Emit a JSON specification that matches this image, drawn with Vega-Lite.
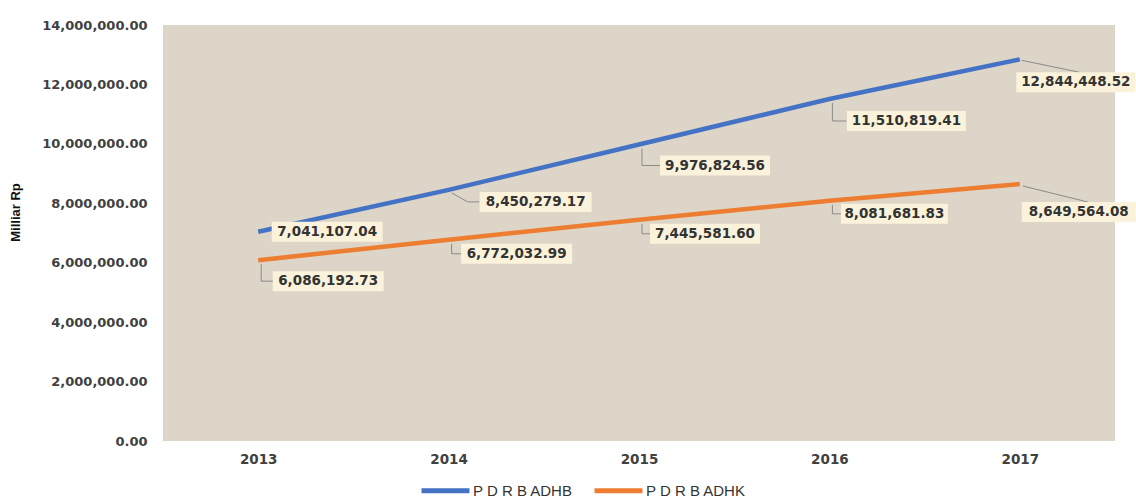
{
  "$schema": "https://vega.github.io/schema/vega-lite/v6.json",
  "width": 952,
  "height": 416,
  "autosize": {"type": "none"},
  "padding": {"left": 163, "top": 25, "right": 21, "bottom": 61},
  "background": "#ffffff",
  "config": {
    "view": {"fill": "#DDD5C8", "stroke": null},
    "axis": {"labelFont": "DejaVu Sans", "labelFontWeight": "bold", "labelColor": "#404040", "grid": false, "ticks": false, "domain": false}
  },
  "data": {
    "values": [
      {"year": "2013", "series": "P D R B ADHB", "value": 7041107.04},
      {"year": "2014", "series": "P D R B ADHB", "value": 8450279.17},
      {"year": "2015", "series": "P D R B ADHB", "value": 9976824.56},
      {"year": "2016", "series": "P D R B ADHB", "value": 11510819.41},
      {"year": "2017", "series": "P D R B ADHB", "value": 12844448.52},
      {"year": "2013", "series": "P D R B ADHK", "value": 6086192.73},
      {"year": "2014", "series": "P D R B ADHK", "value": 6772032.99},
      {"year": "2015", "series": "P D R B ADHK", "value": 7445581.60},
      {"year": "2016", "series": "P D R B ADHK", "value": 8081681.83},
      {"year": "2017", "series": "P D R B ADHK", "value": 8649564.08}
    ]
  },
  "encoding": {
    "x": {"field": "year", "type": "ordinal", "scale": {"type": "point", "padding": 0.5},
      "axis": {"title": null, "labelAngle": 0, "labelFontSize": 13.5, "labelPadding": 11}},
    "y": {"field": "value", "type": "quantitative", "scale": {"domain": [0, 14000000]},
      "axis": {"title": "Milliar Rp", "titleFont": "Liberation Sans", "titleFontWeight": "bold", "titleFontSize": 13, "titleColor": "#111111", "titleX": -148, "titleY": 187, "titleAngle": -90, "titleBaseline": "middle",
        "values": [0, 2000000, 4000000, 6000000, 8000000, 10000000, 12000000, 14000000], "format": ",.2f", "labelFontSize": 13, "labelPadding": 16}}
  },
  "layer": [
    {
      "mark": {"type": "line", "strokeWidth": 4.5, "strokeCap": "butt"},
      "encoding": {
        "color": {"field": "series", "type": "nominal",
          "scale": {"domain": ["P D R B ADHB", "P D R B ADHK"], "range": ["#4472C4", "#ED7D31"]},
          "legend": {"title": null, "orient": "none", "direction": "horizontal", "legendX": 256, "legendY": 439, "padding": 0,
            "symbolType": "stroke", "symbolStrokeWidth": 5, "symbolSize": 2300, "labelFont": "Liberation Sans", "labelFontSize": 15, "labelColor": "#333333", "labelOffset": 1, "columnPadding": 10}}
      }
    },
    {"transform": [{"filter": "datum.series == 'P D R B ADHB' && datum.year == '2013'"}],
     "layer": [
      {"mark": {"type": "rect", "fill": "#FAF2DA", "width": 111, "height": 20, "xOffset": 69, "yOffset": 0}},
      {"mark": {"type": "text", "font": "DejaVu Sans", "fontWeight": "bold", "fontSize": 13.5, "color": "#333333", "dx": 69, "dy": 0, "align": "center", "baseline": "middle"}, "encoding": {"text": {"field": "value", "type": "quantitative", "format": ",.2f"}}}
     ]},
    {"transform": [{"filter": "datum.series == 'P D R B ADHK' && datum.year == '2013'"}],
     "layer": [
      {"mark": {"type": "rule", "color": "#8a8a8a", "strokeWidth": 1, "xOffset": 3, "yOffset": 4, "y2Offset": 21}, "encoding": {"y2": {"field": "value"}}},
      {"mark": {"type": "rule", "color": "#8a8a8a", "strokeWidth": 1, "xOffset": 3, "x2Offset": 15, "yOffset": 21}, "encoding": {"x2": {"field": "year"}}},
      {"mark": {"type": "rect", "fill": "#FAF2DA", "width": 111, "height": 20, "xOffset": 70, "yOffset": 21}},
      {"mark": {"type": "text", "font": "DejaVu Sans", "fontWeight": "bold", "fontSize": 13.5, "color": "#333333", "dx": 70, "dy": 21, "align": "center", "baseline": "middle"}, "encoding": {"text": {"field": "value", "type": "quantitative", "format": ",.2f"}}}
     ]},
    {"transform": [{"filter": "datum.series == 'P D R B ADHB' && datum.year == '2014'"}],
     "layer": [
      {"mark": {"type": "rule", "color": "#8a8a8a", "strokeWidth": 1, "xOffset": 3, "yOffset": 3, "x2Offset": 19, "y2Offset": 12}, "encoding": {"x2": {"field": "year"}, "y2": {"field": "value"}}},
      {"mark": {"type": "rule", "color": "#8a8a8a", "strokeWidth": 1, "xOffset": 19, "x2Offset": 31, "yOffset": 12}, "encoding": {"x2": {"field": "year"}}},
      {"mark": {"type": "rect", "fill": "#FAF2DA", "width": 112, "height": 20, "xOffset": 87, "yOffset": 12}},
      {"mark": {"type": "text", "font": "DejaVu Sans", "fontWeight": "bold", "fontSize": 13.5, "color": "#333333", "dx": 87, "dy": 12, "align": "center", "baseline": "middle"}, "encoding": {"text": {"field": "value", "type": "quantitative", "format": ",.2f"}}}
     ]},
    {"transform": [{"filter": "datum.series == 'P D R B ADHK' && datum.year == '2014'"}],
     "layer": [
      {"mark": {"type": "rule", "color": "#8a8a8a", "strokeWidth": 1, "xOffset": 3, "yOffset": 4, "y2Offset": 14}, "encoding": {"y2": {"field": "value"}}},
      {"mark": {"type": "rule", "color": "#8a8a8a", "strokeWidth": 1, "xOffset": 3, "x2Offset": 13, "yOffset": 14}, "encoding": {"x2": {"field": "year"}}},
      {"mark": {"type": "rect", "fill": "#FAF2DA", "width": 111, "height": 20, "xOffset": 68, "yOffset": 14}},
      {"mark": {"type": "text", "font": "DejaVu Sans", "fontWeight": "bold", "fontSize": 13.5, "color": "#333333", "dx": 68, "dy": 14, "align": "center", "baseline": "middle"}, "encoding": {"text": {"field": "value", "type": "quantitative", "format": ",.2f"}}}
     ]},
    {"transform": [{"filter": "datum.series == 'P D R B ADHB' && datum.year == '2015'"}],
     "layer": [
      {"mark": {"type": "rule", "color": "#8a8a8a", "strokeWidth": 1, "xOffset": 3, "yOffset": 4, "y2Offset": 21}, "encoding": {"y2": {"field": "value"}}},
      {"mark": {"type": "rule", "color": "#8a8a8a", "strokeWidth": 1, "xOffset": 3, "x2Offset": 21, "yOffset": 21}, "encoding": {"x2": {"field": "year"}}},
      {"mark": {"type": "rect", "fill": "#FAF2DA", "width": 110, "height": 20, "xOffset": 76, "yOffset": 21}},
      {"mark": {"type": "text", "font": "DejaVu Sans", "fontWeight": "bold", "fontSize": 13.5, "color": "#333333", "dx": 76, "dy": 21, "align": "center", "baseline": "middle"}, "encoding": {"text": {"field": "value", "type": "quantitative", "format": ",.2f"}}}
     ]},
    {"transform": [{"filter": "datum.series == 'P D R B ADHK' && datum.year == '2015'"}],
     "layer": [
      {"mark": {"type": "rule", "color": "#8a8a8a", "strokeWidth": 1, "xOffset": 3, "yOffset": 4, "y2Offset": 14}, "encoding": {"y2": {"field": "value"}}},
      {"mark": {"type": "rule", "color": "#8a8a8a", "strokeWidth": 1, "xOffset": 3, "x2Offset": 11, "yOffset": 14}, "encoding": {"x2": {"field": "year"}}},
      {"mark": {"type": "rect", "fill": "#FAF2DA", "width": 110, "height": 20, "xOffset": 66, "yOffset": 14}},
      {"mark": {"type": "text", "font": "DejaVu Sans", "fontWeight": "bold", "fontSize": 13.5, "color": "#333333", "dx": 66, "dy": 14, "align": "center", "baseline": "middle"}, "encoding": {"text": {"field": "value", "type": "quantitative", "format": ",.2f"}}}
     ]},
    {"transform": [{"filter": "datum.series == 'P D R B ADHB' && datum.year == '2016'"}],
     "layer": [
      {"mark": {"type": "rule", "color": "#8a8a8a", "strokeWidth": 1, "xOffset": 3, "yOffset": 4, "y2Offset": 22}, "encoding": {"y2": {"field": "value"}}},
      {"mark": {"type": "rule", "color": "#8a8a8a", "strokeWidth": 1, "xOffset": 3, "x2Offset": 17, "yOffset": 22}, "encoding": {"x2": {"field": "year"}}},
      {"mark": {"type": "rect", "fill": "#FAF2DA", "width": 119, "height": 20, "xOffset": 77, "yOffset": 22}},
      {"mark": {"type": "text", "font": "DejaVu Sans", "fontWeight": "bold", "fontSize": 13.5, "color": "#333333", "dx": 77, "dy": 22, "align": "center", "baseline": "middle"}, "encoding": {"text": {"field": "value", "type": "quantitative", "format": ",.2f"}}}
     ]},
    {"transform": [{"filter": "datum.series == 'P D R B ADHK' && datum.year == '2016'"}],
     "layer": [
      {"mark": {"type": "rule", "color": "#8a8a8a", "strokeWidth": 1, "xOffset": 3, "yOffset": 4, "y2Offset": 13}, "encoding": {"y2": {"field": "value"}}},
      {"mark": {"type": "rule", "color": "#8a8a8a", "strokeWidth": 1, "xOffset": 3, "x2Offset": 12, "yOffset": 13}, "encoding": {"x2": {"field": "year"}}},
      {"mark": {"type": "rect", "fill": "#FAF2DA", "width": 107, "height": 20, "xOffset": 65, "yOffset": 13}},
      {"mark": {"type": "text", "font": "DejaVu Sans", "fontWeight": "bold", "fontSize": 13.5, "color": "#333333", "dx": 65, "dy": 13, "align": "center", "baseline": "middle"}, "encoding": {"text": {"field": "value", "type": "quantitative", "format": ",.2f"}}}
     ]},
    {"transform": [{"filter": "datum.series == 'P D R B ADHB' && datum.year == '2017'"}],
     "layer": [
      {"mark": {"type": "rule", "color": "#8a8a8a", "strokeWidth": 1, "xOffset": 2, "yOffset": 1, "x2Offset": 60, "y2Offset": 13}, "encoding": {"x2": {"field": "year"}, "y2": {"field": "value"}}},
      {"mark": {"type": "rect", "fill": "#FAF2DA", "width": 119, "height": 20, "xOffset": 56, "yOffset": 23}},
      {"mark": {"type": "text", "font": "DejaVu Sans", "fontWeight": "bold", "fontSize": 13.5, "color": "#333333", "dx": 56, "dy": 23, "align": "center", "baseline": "middle"}, "encoding": {"text": {"field": "value", "type": "quantitative", "format": ",.2f"}}}
     ]},
    {"transform": [{"filter": "datum.series == 'P D R B ADHK' && datum.year == '2017'"}],
     "layer": [
      {"mark": {"type": "rule", "color": "#8a8a8a", "strokeWidth": 1, "xOffset": 3, "yOffset": 2, "x2Offset": 68, "y2Offset": 18}, "encoding": {"x2": {"field": "year"}, "y2": {"field": "value"}}},
      {"mark": {"type": "rect", "fill": "#FAF2DA", "width": 114, "height": 20, "xOffset": 59, "yOffset": 28}},
      {"mark": {"type": "text", "font": "DejaVu Sans", "fontWeight": "bold", "fontSize": 13.5, "color": "#333333", "dx": 59, "dy": 28, "align": "center", "baseline": "middle"}, "encoding": {"text": {"field": "value", "type": "quantitative", "format": ",.2f"}}}
     ]}
  ]
}
